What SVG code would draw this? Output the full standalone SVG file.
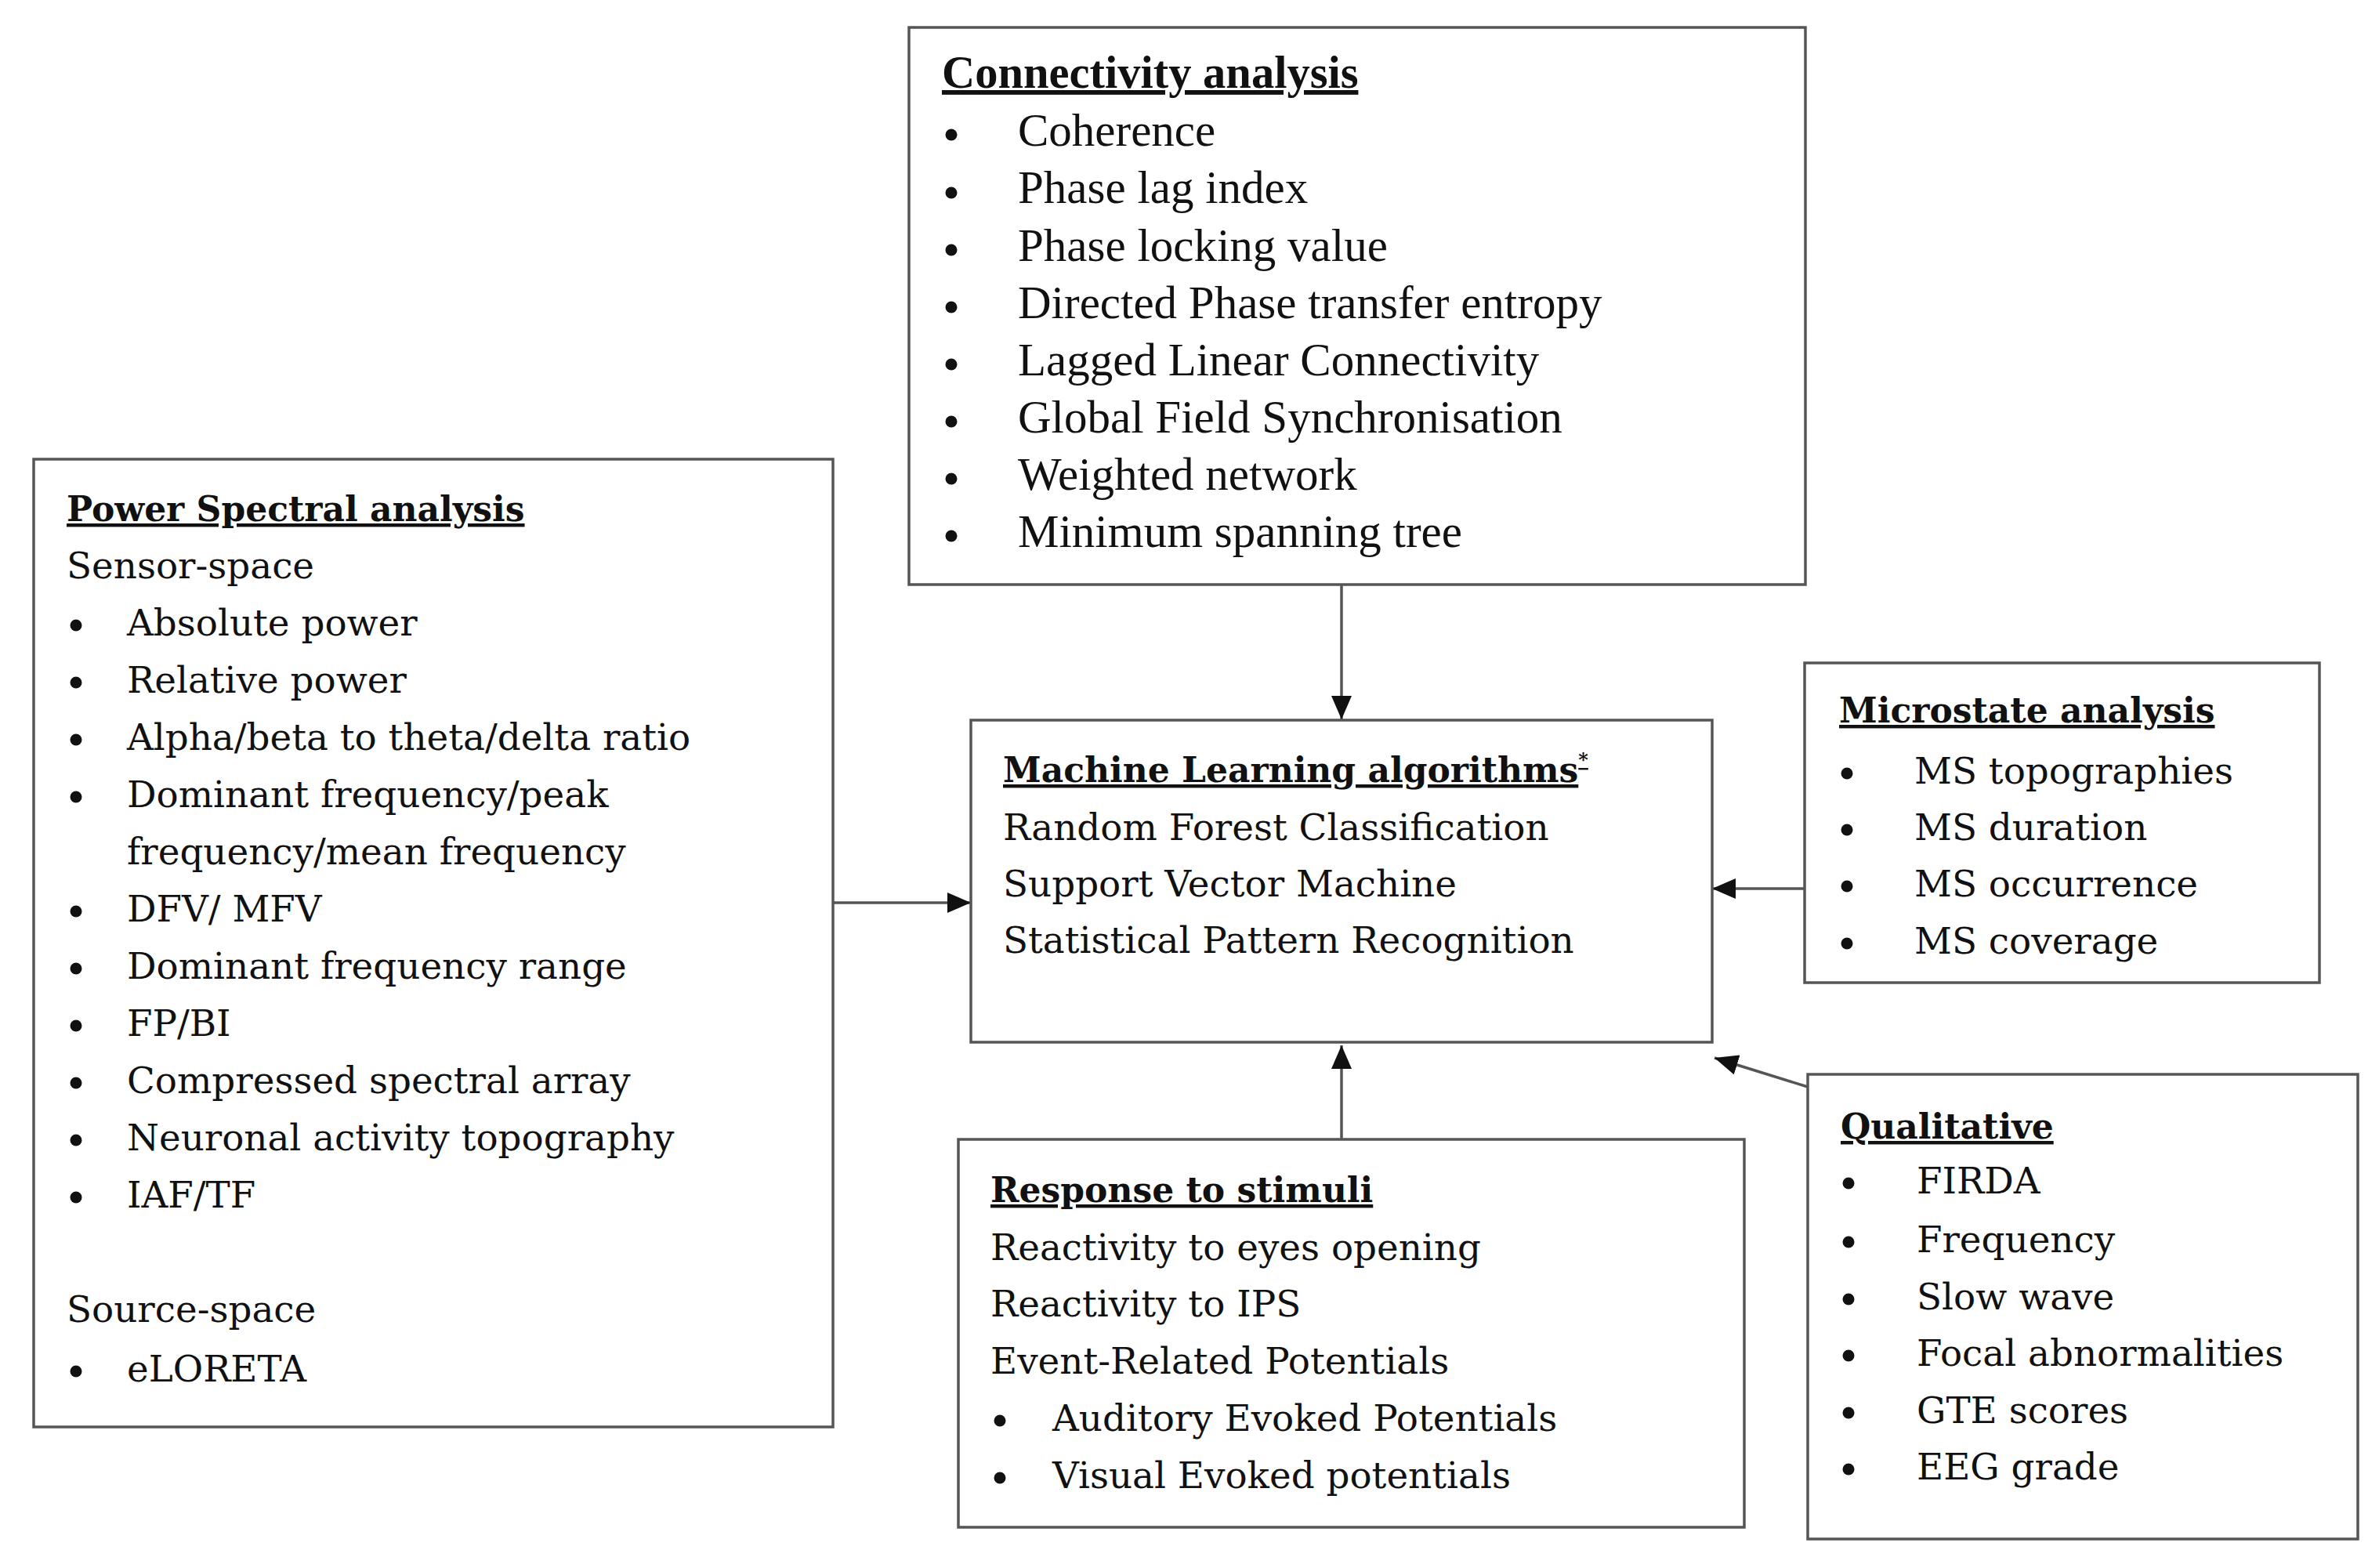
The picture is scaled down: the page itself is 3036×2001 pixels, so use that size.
<svg xmlns="http://www.w3.org/2000/svg" width="3036" height="2001" viewBox="0 0 3036 2001">
<defs>
<style>
.box{fill:#fff;stroke:#555;stroke-width:3.5}
.w{font-family:"DejaVu Serif","Liberation Serif",serif;font-size:46.8px;fill:#111}
.wh{font-family:"DejaVu Serif","Liberation Serif",serif;font-size:44px;font-weight:bold;fill:#111;text-decoration:underline}
.n{font-family:"Liberation Serif","DejaVu Serif",serif;font-size:59px;fill:#111}
.nh{font-family:"Liberation Serif","DejaVu Serif",serif;font-size:58.5px;font-weight:bold;fill:#111;text-decoration:underline}
.b{fill:#111}
.c{stroke:#555;stroke-width:3.5;fill:none}
</style>
<marker id="ah" viewBox="0 0 30 26" refX="30" refY="13" markerWidth="30" markerHeight="26" markerUnits="userSpaceOnUse" orient="auto">
<path d="M0,0 L30,13 L0,26 Z" fill="#111"/>
</marker>
</defs>
<rect width="3036" height="2001" fill="#fff"/>

<g id="connectors">
<line class="c" x1="1712" y1="747" x2="1712" y2="918" marker-end="url(#ah)"/>
<line class="c" x1="1063" y1="1152" x2="1239" y2="1152" marker-end="url(#ah)"/>
<line class="c" x1="2303" y1="1134" x2="2185" y2="1134" marker-end="url(#ah)"/>
<line class="c" x1="1712" y1="1454" x2="1712" y2="1334" marker-end="url(#ah)"/>
<line class="c" x1="2307" y1="1387" x2="2188" y2="1350" marker-end="url(#ah)"/>
</g>

<g id="connectivity">
<rect class="box" x="1160" y="35" width="1144" height="711"/>
<text class="nh" x="1202" y="112">Connectivity analysis</text>
<circle class="b" cx="1214" cy="172" r="7.5"/><text class="n" x="1299" y="186">Coherence</text>
<circle class="b" cx="1214" cy="246" r="7.5"/><text class="n" x="1299" y="259">Phase lag index</text>
<circle class="b" cx="1214" cy="319" r="7.5"/><text class="n" x="1299" y="333">Phase locking value</text>
<circle class="b" cx="1214" cy="392" r="7.5"/><text class="n" x="1299" y="406">Directed Phase transfer entropy</text>
<circle class="b" cx="1214" cy="465" r="7.5"/><text class="n" x="1299" y="479">Lagged Linear Connectivity</text>
<circle class="b" cx="1214" cy="538" r="7.5"/><text class="n" x="1299" y="552">Global Field Synchronisation</text>
<circle class="b" cx="1214" cy="611" r="7.5"/><text class="n" x="1299" y="625">Weighted network</text>
<circle class="b" cx="1214" cy="684" r="7.5"/><text class="n" x="1299" y="698">Minimum spanning tree</text>
</g>

<g id="power">
<rect class="box" x="43" y="586" width="1020" height="1235"/>
<text class="wh" x="85" y="665">Power Spectral analysis</text>
<text class="w" x="85" y="738">Sensor-space</text>
<circle class="b" cx="97" cy="798" r="7.5"/><text class="w" x="162" y="811">Absolute power</text>
<circle class="b" cx="97" cy="871" r="7.5"/><text class="w" x="162" y="884">Relative power</text>
<circle class="b" cx="97" cy="944" r="7.5"/><text class="w" x="162" y="957">Alpha/beta to theta/delta ratio</text>
<circle class="b" cx="97" cy="1017" r="7.5"/><text class="w" x="162" y="1030">Dominant frequency/peak</text>
<text class="w" x="162" y="1103">frequency/mean frequency</text>
<circle class="b" cx="97" cy="1163" r="7.5"/><text class="w" x="162" y="1176">DFV/ MFV</text>
<circle class="b" cx="97" cy="1236" r="7.5"/><text class="w" x="162" y="1249">Dominant frequency range</text>
<circle class="b" cx="97" cy="1309" r="7.5"/><text class="w" x="162" y="1322">FP/BI</text>
<circle class="b" cx="97" cy="1382" r="7.5"/><text class="w" x="162" y="1395">Compressed spectral array</text>
<circle class="b" cx="97" cy="1455" r="7.5"/><text class="w" x="162" y="1468">Neuronal activity topography</text>
<circle class="b" cx="97" cy="1528" r="7.5"/><text class="w" x="162" y="1541">IAF/TF</text>
<text class="w" x="85" y="1687">Source-space</text>
<circle class="b" cx="97" cy="1750" r="7.5"/><text class="w" x="162" y="1763">eLORETA</text>
</g>

<g id="ml">
<rect class="box" x="1239" y="919" width="946" height="411"/>
<text class="wh" x="1280" y="998">Machine Learning algorithms<tspan font-size="24" dy="-20">*</tspan></text>
<text class="w" x="1280" y="1072">Random Forest Classification</text>
<text class="w" x="1280" y="1144">Support Vector Machine</text>
<text class="w" x="1280" y="1216">Statistical Pattern Recognition</text>
</g>

<g id="microstate">
<rect class="box" x="2303" y="846" width="657" height="408"/>
<text class="wh" x="2347" y="922">Microstate analysis</text>
<circle class="b" cx="2357" cy="987" r="7.5"/><text class="w" x="2443" y="1000">MS topographies</text>
<circle class="b" cx="2357" cy="1059" r="7.5"/><text class="w" x="2443" y="1072">MS duration</text>
<circle class="b" cx="2357" cy="1131" r="7.5"/><text class="w" x="2443" y="1144">MS occurrence</text>
<circle class="b" cx="2357" cy="1204" r="7.5"/><text class="w" x="2443" y="1217">MS coverage</text>
</g>

<g id="response">
<rect class="box" x="1223" y="1454" width="1003" height="495"/>
<text class="wh" x="1264" y="1534">Response to stimuli</text>
<text class="w" x="1264" y="1608">Reactivity to eyes opening</text>
<text class="w" x="1264" y="1680">Reactivity to IPS</text>
<text class="w" x="1264" y="1753">Event-Related Potentials</text>
<circle class="b" cx="1276" cy="1813" r="7.5"/><text class="w" x="1343" y="1826">Auditory Evoked Potentials</text>
<circle class="b" cx="1276" cy="1886" r="7.5"/><text class="w" x="1343" y="1899">Visual Evoked potentials</text>
</g>

<g id="qualitative">
<rect class="box" x="2307" y="1371" width="702" height="593"/>
<text class="wh" x="2349" y="1453">Qualitative</text>
<circle class="b" cx="2359" cy="1510" r="7.5"/><text class="w" x="2446" y="1523">FIRDA</text>
<circle class="b" cx="2359" cy="1585" r="7.5"/><text class="w" x="2446" y="1598">Frequency</text>
<circle class="b" cx="2359" cy="1658" r="7.5"/><text class="w" x="2446" y="1671">Slow wave</text>
<circle class="b" cx="2359" cy="1730" r="7.5"/><text class="w" x="2446" y="1743">Focal abnormalities</text>
<circle class="b" cx="2359" cy="1803" r="7.5"/><text class="w" x="2446" y="1816">GTE scores</text>
<circle class="b" cx="2359" cy="1875" r="7.5"/><text class="w" x="2446" y="1888">EEG grade</text>
</g>
</svg>
